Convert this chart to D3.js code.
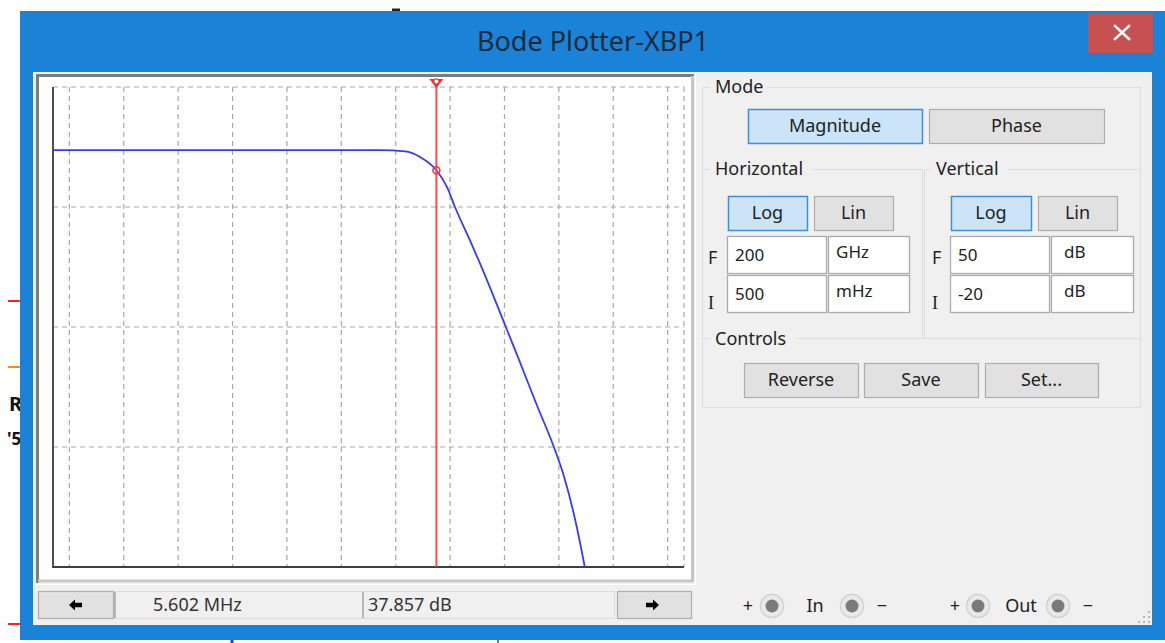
<!DOCTYPE html>
<html>
<head>
<meta charset="utf-8">
<script src="https://cdn.jsdelivr.net/npm/d3@7"></script>
<style>
  body { margin: 0; background: #ffffff; overflow: hidden; }
  svg { display: block; }
  text { font-family: "Noto Sans", "Open Sans", sans-serif; }
</style>
</head>
<body>
<svg id="chart" width="1165" height="643"></svg>
<script>
// ---- Measured magnitude response (frequency in Hz, gain in dB) ----
const freqHz = [0.5, 5.1e5, 1.5e6, 2.8e6, 5.602e6, 8.8e6, 1.23e7, 2.3e7, 4.0e7,
                1.06e8, 1.77e8, 3.9e8, 8.1e8, 1.19e9, 2.14e9, 3.0e9];
const magnitudeDb = [40.8, 40.8, 40.6, 39.8, 37.857, 35.4, 32.5, 27.7, 23.3,
                     15.0, 10.6, 3.7, -2.5, -6.3, -14.2, -20];

// Decade grid lines on the frequency axis
const decadeFreqs = [1, 10, 100, 1e3, 1e4, 1e5, 1e6, 1e7, 1e8, 1e9, 1e10, 1e11];

// Instrument settings
const horizFinal = [200, "GHz"];   // F
const horizInitial = [500, "mHz"]; // I
const vertFinal = [50, "dB"];
const vertInitial = [-20, "dB"];
const unitScale = { GHz: 1e9, MHz: 1e6, kHz: 1e3, Hz: 1, mHz: 1e-3 };

// Cursor readout
const cursorFreq = 5.602e6;
const cursorDb = 37.857;

const svg = d3.select("#chart");
const FS = 18;

// ---- Background schematic fragments peeking out behind the window ----
const bg = svg.append("g");
bg.append("line").attr("x1", 8).attr("x2", 20).attr("y1", 301).attr("y2", 301).attr("stroke", "#ff2020").attr("stroke-width", 2);
bg.append("line").attr("x1", 8).attr("x2", 20).attr("y1", 367).attr("y2", 367).attr("stroke", "#ff8c1a").attr("stroke-width", 2);
bg.append("line").attr("x1", 8).attr("x2", 20).attr("y1", 624).attr("y2", 624).attr("stroke", "#ff2020").attr("stroke-width", 2);
bg.append("text").attr("x", 9).attr("y", 411).attr("font-size", 20).attr("font-weight", "bold").attr("fill", "#111").text("R");
bg.append("text").attr("x", 7).attr("y", 445).attr("font-size", 17).attr("font-weight", "bold").attr("fill", "#111").text("'5");
bg.append("line").attr("x1", 392).attr("x2", 400).attr("y1", 10).attr("y2", 10).attr("stroke", "#222").attr("stroke-width", 3);
bg.append("line").attr("x1", 232).attr("x2", 232).attr("y1", 638).attr("y2", 643).attr("stroke", "#2040e0").attr("stroke-width", 3);
bg.append("line").attr("x1", 498).attr("x2", 498).attr("y1", 638).attr("y2", 643).attr("stroke", "#405060").attr("stroke-width", 1.5);

// ---- Window chrome ----
const win = svg.append("g");
win.append("rect").attr("x", 20).attr("y", 11).attr("width", 1145).attr("height", 629).attr("fill", "#1a82d7");
win.append("text").attr("x", 593).attr("y", 51).attr("text-anchor", "middle")
  .attr("font-size", 27).attr("fill", "#1d2a3a").text("Bode Plotter-XBP1");
// close button
win.append("rect").attr("x", 1088).attr("y", 13).attr("width", 65).attr("height", 40).attr("fill", "#c75050");
win.append("path").attr("d", "M1115,26 L1129,39 M1129,26 L1115,39")
  .attr("stroke", "#ffffff").attr("stroke-width", 2.6).attr("stroke-linecap", "square");
// client area
win.append("rect").attr("x", 33).attr("y", 72).attr("width", 1119).attr("height", 553).attr("fill", "#f0f0f0");

// ---- Plot frame ----
const frame = svg.append("g");
frame.append("rect").attr("x", 36).attr("y", 74).attr("width", 658).attr("height", 509).attr("fill", "#ffffff");
frame.append("path").attr("d", "M37.5,583 L37.5,75.5 L694,75.5").attr("fill", "none").attr("stroke", "#7d7d7d").attr("stroke-width", 3);
frame.append("path").attr("d", "M692.5,76 L692.5,581 L38,581").attr("fill", "none").attr("stroke", "#c6c6c6").attr("stroke-width", 3);
frame.append("path").attr("d", "M35,584.5 L695.5,584.5 L695.5,73").attr("fill", "none").attr("stroke", "#ffffff").attr("stroke-width", 1);

// ---- Scales ----
const x = d3.scaleLog()
  .domain([horizInitial[0] * unitScale[horizInitial[1]], horizFinal[0] * unitScale[horizFinal[1]]])
  .range([53, 684]);
const y = d3.scaleLinear()
  .domain([vertInitial[0], vertFinal[0]])
  .range([567, 87]);

const plot = svg.append("g");
const [x0, x1] = x.range();
const [yb, yt] = y.range();

// Horizontal grid: four equal divisions of the dB span
const yDomain = y.domain();
const hGrid = d3.range(1, 5).map(i => yDomain[0] + (yDomain[1] - yDomain[0]) * i / 4);
plot.selectAll(".hgrid").data(hGrid).join("line")
  .attr("x1", x0).attr("x2", x1)
  .attr("y1", d => y(d)).attr("y2", d => y(d))
  .attr("stroke", "#a8a8a8").attr("stroke-width", 1.2).attr("stroke-dasharray", "5,4");

// Vertical grid: one line per decade, plus the right edge
plot.selectAll(".vgrid").data(decadeFreqs.concat([x.domain()[1]])).join("line")
  .attr("x1", d => x(d)).attr("x2", d => x(d))
  .attr("y1", yt).attr("y2", yb)
  .attr("stroke", "#a8a8a8").attr("stroke-width", 1.2).attr("stroke-dasharray", "5,4");

// Axes (left and bottom solid)
plot.append("line").attr("x1", x0).attr("x2", x0).attr("y1", yt).attr("y2", yb + 1)
  .attr("stroke", "#505050").attr("stroke-width", 2);
plot.append("line").attr("x1", x0).attr("x2", x1).attr("y1", yb).attr("y2", yb)
  .attr("stroke", "#404040").attr("stroke-width", 2);

// Magnitude curve
const points = freqHz.map((f, i) => ({ f, db: magnitudeDb[i] }));
const line = d3.line().x(d => x(d.f)).y(d => y(d.db)).curve(d3.curveMonotoneX);
plot.append("path").datum(points).attr("d", line)
  .attr("fill", "none").attr("stroke", "#3a3af5").attr("stroke-width", 1.8);

// Cursor
const cx = x(cursorFreq);
plot.append("line").attr("x1", cx).attr("x2", cx).attr("y1", 78).attr("y2", yb)
  .attr("stroke", "#ff4a4a").attr("stroke-width", 2);
plot.append("path").attr("d", `M${cx - 7},79 L${cx + 7},79 L${cx},88 Z`).attr("fill", "#ff2a2a");
plot.append("circle").attr("cx", cx).attr("cy", 81.5).attr("r", 2).attr("fill", "#ffffff");
plot.append("circle").attr("cx", cx).attr("cy", y(cursorDb)).attr("r", 3.5)
  .attr("fill", "none").attr("stroke", "#ff3030").attr("stroke-width", 1.5);

// ---- Readout bar under the plot ----
const bar = svg.append("g");
function button(g, bx, by, w, h, selected) {
  g.append("rect").attr("x", bx + 0.5).attr("y", by + 0.5).attr("width", w).attr("height", h)
    .attr("fill", selected ? "#cce4f7" : "#e1e1e1")
    .attr("stroke", selected ? "#3c8fd9" : "#adadad").attr("stroke-width", selected ? 1.5 : 1.2);
}
button(bar, 38, 591, 75, 27, false);
button(bar, 617, 591, 74, 27, false);
bar.append("path").attr("d", "M69,605 L75,599.5 L75,602.8 L82,602.8 L82,607.2 L75,607.2 L75,610.5 Z").attr("fill", "#000");
bar.append("path").attr("d", "M659,605 L653,599.5 L653,602.8 L646,602.8 L646,607.2 L653,607.2 L653,610.5 Z").attr("fill", "#000");
[[114, 248], [362, 252]].forEach(([fx, fw]) => {
  bar.append("rect").attr("x", fx + 0.5).attr("y", 591.5).attr("width", fw).attr("height", 27)
    .attr("fill", "#f0f0f0").attr("stroke", "#dcdcdc");
  bar.append("line").attr("x1", fx + 1).attr("x2", fx + 1).attr("y1", 592).attr("y2", 618).attr("stroke", "#a8a8a8").attr("stroke-width", 1.5);
});
bar.append("text").attr("x", 153).attr("y", 611).attr("font-size", FS).attr("fill", "#333")
  .text((cursorFreq / 1e6).toFixed(3) + " MHz");
bar.append("text").attr("x", 368).attr("y", 611).attr("font-size", FS).attr("fill", "#333")
  .text(cursorDb.toFixed(3) + " dB");

// ---- Control panel ----
const panel = svg.append("g");
function etched(d) {
  panel.append("path").attr("d", d).attr("fill", "none").attr("stroke", "#dcdcdc").attr("stroke-width", 1);
}
etched("M710,87.5 L702.5,87.5 L702.5,407.5 L1140.5,407.5 L1140.5,87.5 L767,87.5");
etched("M702.5,169.5 L710,169.5 M812,169.5 L922.5,169.5 L922.5,338.5");
etched("M924.5,338.5 L924.5,169.5 L931,169.5 M1008,169.5 L1140.5,169.5");
etched("M702.5,338.5 L710,338.5 M797,338.5 L1140.5,338.5");

const label = (t, lx, ly, anchor) => panel.append("text").attr("x", lx).attr("y", ly)
  .attr("font-size", FS).attr("fill", "#222").attr("text-anchor", anchor || "start").text(t);
label("Mode", 715, 93);
label("Horizontal", 715, 175);
label("Vertical", 936, 175);
label("Controls", 715, 345);

function labeledButton(t, bx, by, w, h, selected) {
  button(panel, bx, by, w, h, selected);
  label(t, bx + w / 2, by + h / 2 + 6, "middle");
}
labeledButton("Magnitude", 748, 109, 174, 34, true);
labeledButton("Phase", 929, 109, 175, 34, false);
labeledButton("Log", 728, 196, 79, 34, true);
labeledButton("Lin", 814, 196, 79, 34, false);
labeledButton("Log", 951, 196, 80, 34, true);
labeledButton("Lin", 1038, 196, 79, 34, false);
labeledButton("Reverse", 744, 363, 114, 34, false);
labeledButton("Save", 864, 363, 114, 34, false);
labeledButton("Set...", 985, 363, 113, 34, false);

function field(fx, fy, w, h, t, tx, ty) {
  panel.append("rect").attr("x", fx + 0.5).attr("y", fy + 0.5).attr("width", w).attr("height", h)
    .attr("fill", "#ffffff").attr("stroke", "#ababab").attr("stroke-width", 1.3);
  panel.append("text").attr("x", tx).attr("y", ty).attr("font-size", FS - 1).attr("fill", "#222").text(t);
}
const rows = [
  { y: 236, lab: "F", hv: horizFinal, vv: vertFinal },
  { y: 275, lab: "I", hv: horizInitial, vv: vertInitial }
];
rows.forEach(r => {
  field(727, r.y, 99, 37, String(r.hv[0]), 735, r.y + 25);
  field(828, r.y, 81, 37, r.hv[1], 836, r.y + 22);
  field(950, r.y, 99, 37, String(r.vv[0]), 958, r.y + 25);
  field(1051, r.y, 82, 37, r.vv[1], 1064, r.y + 22);
  const isI = r.lab === "I";
  [708, 932].forEach(lx => panel.append("text").attr("x", lx).attr("y", r.y + (isI ? 34 : 28))
    .attr("font-size", FS).attr("fill", "#222")
    .style("font-family", isI ? "'Liberation Serif', serif" : null).text(r.lab));
});

// Terminals
const term = svg.append("g");
[772, 852, 978, 1058].forEach(tx => {
  term.append("circle").attr("cx", tx).attr("cy", 606).attr("r", 11.5).attr("fill", "#e9e9e9").attr("stroke", "#d2d2d2").attr("stroke-width", 1.5);
  term.append("circle").attr("cx", tx).attr("cy", 606).attr("r", 6.5).attr("fill", "#7a7a7a");
});
[["+", 748], ["In", 815], ["\u2212", 882], ["+", 955], ["Out", 1021], ["\u2212", 1088]].forEach(([t, tx]) => {
  term.append("text").attr("x", tx).attr("y", 612).attr("text-anchor", "middle")
    .attr("font-size", FS).attr("fill", "#222").text(t);
});
// Resize grip
[[1148, 621], [1143, 621], [1138, 621], [1148, 616], [1143, 616], [1148, 611]].forEach(([gx, gy]) => {
  term.append("rect").attr("x", gx).attr("y", gy).attr("width", 2).attr("height", 2).attr("fill", "#b4b4b4");
});
</script>
</body>
</html>
